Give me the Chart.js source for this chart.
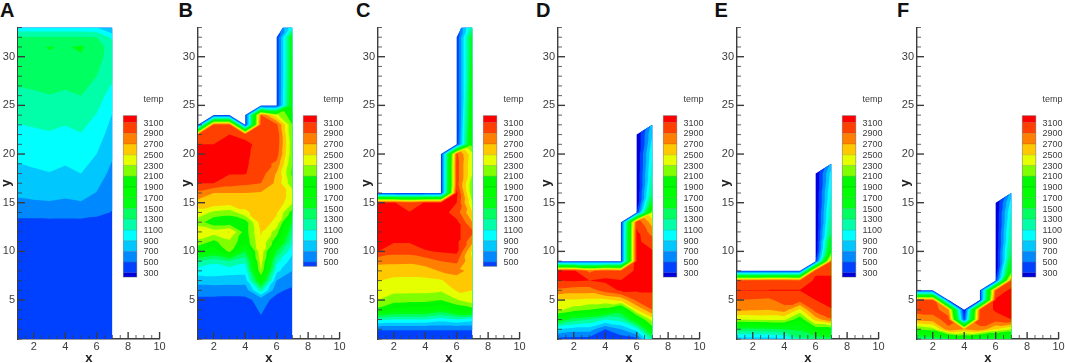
<!DOCTYPE html>
<html><head><meta charset="utf-8">
<script src="https://cdn.jsdelivr.net/npm/chart.js@4"></script>
<style>
html,body{margin:0;padding:0;background:#fff;overflow:hidden;width:1065px;height:363px}
canvas{position:absolute;top:0;filter:blur(0.45px)}
.letter{position:absolute;top:-3px;font:bold 20px "Liberation Sans",Arial,sans-serif;color:#111;line-height:26px}
</style></head><body>
<script>
const panelLetters=['A','B','C','D','E','F'];
const xCols=[1,2,3,4,5,6,7];
const xTicks=[2,4,6,8,10];
const yTicks=[5,10,15,20,25,30];
const legendLevels=[3100,2900,2700,2500,2300,2100,1900,1700,1500,1300,1100,900,700,500,300];
const bandColors=['#0000DC','#0040FF','#0088FF','#00C8FF','#00FFFF','#00FFA8','#00FF60','#00FF10','#00FF00','#00F800','#80FF00','#E6FF00','#FFC800','#FF8000','#FF4000','#FF0000'];

const yA=[1,13,14,15,16,18,20,22,24,26,28,30,31,32,33];
const tempA=[
[410,410,410,410,410,410,410],
[460,460,460,460,460,450,450],
[560,560,570,563,570,538,492],
[660,678,688,670,688,615,530],
[733,748,760,741,762,692,568],
[844,870,893,859,900,797,646],
[948,970,988,960,995,900,725],
[1043,1063,1081,1053,1090,995,808],
[1144,1165,1186,1155,1195,1090,892],
[1255,1272,1294,1267,1300,1195,1012],
[1350,1370,1390,1375,1400,1300,1140],
[1430,1440,1480,1470,1480,1380,1200],
[1450,1470,1510,1480,1530,1400,1200],
[1320,1320,1320,1320,1320,1300,1050],
[950,950,950,950,950,900,650]];
const outlineA=[[1,1],[1,33],[7,33],[7,1]];

const yB=[1,5,6,7,8,9,10,11,12,13,14,15,16,17,18,19,20,21,22,23,24,25,32,33];
const tempB=[
[420,420,420,420,420,420,420],
[460,460,460,460,550,460,430],
[575,575,560,575,1200,530,470],
[790,820,800,790,1850,700,560],
[1000,1000,980,970,2300,960,700],
[1300,1150,1300,1150,2400,1170,800],
[1900,1750,2150,1500,2450,1500,950],
[2250,2050,2250,1950,2480,1950,1150],
[2450,2400,2520,2000,2520,2200,1300],
[2200,1950,1950,2000,2600,2450,1500],
[2420,2250,2180,2450,2620,2520,2000],
[2620,2650,2600,2600,2650,2650,2330],
[2840,2700,2700,2700,2680,2650,2400],
[3100,3100,3000,2950,2900,2650,2150],
[3200,3200,3110,3110,3000,2680,2050],
[3200,3200,3200,3130,3000,2850,2100],
[3200,3200,3200,3150,3000,3000,2150],
[3100,3100,3200,3180,3000,3050,2150],
[2920,3020,3100,3000,3000,3050,2100],
[320,3000,3000,320,3000,2950,2100],
[320,320,320,320,2900,2350,1950],
[320,320,320,320,320,320,1800],
[320,320,320,320,320,320,1700],
[320,320,320,320,320,320,1100]];
const outlineB=[[1,1],[1,23],[2,24],[3,24],[4,23],[4,24],[5,25],[6,25],[6,32],[6.4,33],[7,33],[7,1]];

const yC=[1,2,3,4,5,6,7,8,9,10,11,12,13,14,15,16,17,18,19,20,21,32,33];
const tempC=[
[450,450,450,450,450,450,450],
[505,505,505,505,505,505,505],
[1150,1100,1100,1100,1000,1100,1000],
[2050,1850,1800,1800,1650,1900,2000],
[2300,2200,2180,2180,2100,2280,2450],
[2420,2350,2350,2350,2330,2520,2500],
[2510,2450,2450,2450,2480,2640,2680],
[2600,2600,2590,2620,2720,2750,2650],
[2760,2750,2740,2790,2900,2950,2500],
[3100,2980,2980,3080,3120,3150,2450],
[3150,3120,3120,3200,3200,3150,2750],
[3150,3150,3200,3200,3200,3150,2950],
[3150,3150,3200,3200,3200,3150,2700],
[3150,3150,3110,3200,3200,3000,2500],
[3120,3120,2950,3120,3120,3100,2300],
[320,320,320,320,320,3150,2150],
[320,320,320,320,320,3000,2150],
[320,320,320,320,320,3000,2300],
[320,320,320,320,320,3000,2300],
[320,320,320,320,320,2950,2350],
[320,320,320,320,320,320,2000],
[320,320,320,320,320,320,1650],
[320,320,320,320,320,320,1300]];
const outlineC=[[1,1],[1,16],[5,16],[5,20],[6,21],[6,32],[6.3,33],[7,33],[7,1]];

const yD=[1,2,3,4,5,6,7,8,9,10,11,12,13,14,15,16,18,20,22,23];
const tempD=[
[450,420,420,350,380,450,1250],
[900,800,800,500,700,1000,1950],
[1700,1400,1300,1100,1200,1800,2400],
[2350,2200,2100,2000,1700,2500,2900],
[2480,2480,2450,2450,2550,2950,3030],
[2850,2800,2800,3000,3130,3120,3120],
[3100,3120,3100,3130,3110,3150,3150],
[3150,3130,2850,3000,2900,3150,3150],
[320,320,320,320,320,3140,3150],
[320,320,320,320,320,3140,3120],
[320,320,320,320,320,3140,3000],
[320,320,320,320,320,3130,2800],
[320,320,320,320,320,3050,2600],
[320,320,320,320,320,320,2300],
[320,320,320,320,320,100,1700],
[320,320,320,320,320,100,1400],
[320,320,320,320,320,100,1200],
[320,320,320,320,320,100,1100],
[320,320,320,320,320,100,900],
[320,320,320,320,320,100,800]];
const outlineD=[[1,1],[1,9],[5,9],[5,13],[6,14],[6,22],[7,23],[7,1]];

const yE=[1,2,3,4,5,6,7,8,9,10,11,12,14,16,18,19];
const tempE=[
[800,800,800,850,1250,1300,1400],
[1420,1420,1450,1500,1550,1950,1950],
[2300,2320,2350,2350,1950,2600,2880],
[2750,2720,2700,2800,2450,3000,3090],
[2900,2880,2850,3000,3000,3100,3150],
[3105,3105,3105,3105,3105,3150,3150],
[2950,2960,2980,3000,2900,3150,3150],
[320,320,320,320,320,3050,3050],
[320,320,320,320,320,320,2900],
[320,320,320,320,320,100,2000],
[320,320,320,320,320,100,1800],
[320,320,320,320,320,100,1500],
[320,320,320,320,320,100,1300],
[320,320,320,320,320,100,1150],
[320,320,320,320,320,100,1000],
[320,320,320,320,320,100,800]];
const outlineE=[[1,1],[1,8],[5,8],[6,9],[6,18],[7,19],[7,1]];

const yF=[1,2,3,4,5,6,7,8,10,12,14,15,16];
const tempF=[
[1300,1350,1450,1700,1450,1450,1500],
[2100,2200,2850,2700,2850,2500,2300],
[2750,2800,3000,400,3000,3000,3100],
[3000,3000,2750,200,2950,3130,3200],
[2950,2950,320,320,320,3130,3200],
[320,320,320,320,320,2950,3150],
[320,320,320,320,320,320,2950],
[320,320,320,320,320,100,2000],
[320,320,320,320,320,100,1500],
[320,320,320,320,320,100,1300],
[320,320,320,320,320,100,1150],
[320,320,320,320,320,100,1000],
[320,320,320,320,320,100,800]];
const outlineF=[[1,1],[1,6],[2,6],[3,5],[4,4],[5,5],[5,6],[6,7],[6,15],[7,16],[7,1]];

const canvasLefts=[0,180,360,540,719,899];
const rowSets=[yA,yB,yC,yD,yE,yF];
const tempSets=[tempA,tempB,tempC,tempD,tempE,tempF];
const outlines=[outlineA,outlineB,outlineC,outlineD,outlineE,outlineF];
const legendLast=[300,500,500,300,300,300];

const inkColor='#3c3c3c';
const AXIS_W=18, PLOT_W=141.6, TOP=27.5, BOTTOM_H=24, CW=168;

function clipTri(tri,level){
  const out=[];
  for(let i=0;i<tri.length;i++){
    const p=tri[i],q=tri[(i+1)%tri.length];
    const pin=p[2]>=level,qin=q[2]>=level;
    if(pin)out.push(p);
    if(pin!==qin){
      const f=(level-p[2])/(q[2]-p[2]);
      out.push([p[0]+f*(q[0]-p[0]),p[1]+f*(q[1]-p[1]),level]);
    }
  }
  return out;
}
const contourPlugin={
  id:'contour',
  beforeDatasetsDraw(chart,args,opts){
    const {ctx,scales:{x:sx,y:sy}}=chart;
    const rows=opts.rows,temps=opts.temps,outline=opts.outline;
    const px=v=>sx.getPixelForValue(v),py=v=>sy.getPixelForValue(v);
    const tris=[];
    for(let j=0;j<rows.length-1;j++)for(let i=0;i<xCols.length-1;i++){
      const a=[px(xCols[i]),py(rows[j]),temps[j][i]],
            b=[px(xCols[i+1]),py(rows[j]),temps[j][i+1]],
            c=[px(xCols[i+1]),py(rows[j+1]),temps[j+1][i+1]],
            d=[px(xCols[i]),py(rows[j+1]),temps[j+1][i]];
      if(Math.abs(a[2]-c[2])<=Math.abs(b[2]-d[2])){tris.push([a,b,c],[a,c,d]);}
      else{tris.push([a,b,d],[b,c,d]);}
    }
    ctx.save();
    ctx.beginPath();
    outline.forEach((p,k)=>{k?ctx.lineTo(px(p[0]),py(p[1])):ctx.moveTo(px(p[0]),py(p[1]));});
    ctx.closePath();ctx.clip();
    const levels=[-1e9,300,500,700,900,1100,1300,1500,1700,1900,2100,2300,2500,2700,2900,3100];
    levels.forEach((lv,n)=>{
      ctx.beginPath();
      tris.forEach(t=>{
        if(n===0&&Math.min(t[0][2],t[1][2],t[2][2])>=300)return;
        const poly=clipTri(t,lv);
        if(poly.length<3)return;
        ctx.moveTo(poly[0][0],poly[0][1]);
        for(let k=1;k<poly.length;k++)ctx.lineTo(poly[k][0],poly[k][1]);
        ctx.closePath();
      });
      ctx.fillStyle=bandColors[n];
      ctx.fill();
    });
    ctx.restore();
  },
  afterDraw(chart,args,opts){
    const {ctx,scales:{x:sx,y:sy}}=chart;
    const x0=sx.left,y0=sy.bottom;
    ctx.save();
    ctx.strokeStyle=inkColor;
    for(let v=1;v<=33;v++){
      const major=v%5===0,p=sy.getPixelForValue(v);
      ctx.lineWidth=major?1.4:0.8;
      ctx.beginPath();ctx.moveTo(x0,p);ctx.lineTo(x0+(major?7:4),p);ctx.stroke();
    }
    for(let v=1;v<=10;v+=0.5){
      const major=v%2===0,p=sx.getPixelForValue(v);
      ctx.lineWidth=major?1.4:0.8;
      ctx.beginPath();ctx.moveTo(p,y0);ctx.lineTo(p,y0-(major?7:4));ctx.stroke();
    }
    const barX=x0+105.3,barW=13.5,barTop=115.7,labelX=x0+125.6,first=122.6,step=10.73;
    const last=opts.legendLast;
    const shown=legendLevels.filter(v=>v>=last);
    const barBottom=first+(shown.length-1)*step+4.2;
    const lvY=i=>first+i*step;
    ctx.fillStyle=bandColors[15];ctx.fillRect(barX,barTop,barW,first-barTop);
    shown.forEach((v,i)=>{
      const col=bandColors[14-i];
      const nextY=i===shown.length-1?barBottom:lvY(i+1);
      ctx.fillStyle=col;ctx.fillRect(barX,lvY(i),barW,nextY-lvY(i));
      ctx.strokeStyle='rgba(0,0,0,.22)';ctx.lineWidth=0.7;
      ctx.beginPath();ctx.moveTo(barX,lvY(i));ctx.lineTo(barX+barW,lvY(i));ctx.stroke();
    });
    ctx.strokeStyle='rgba(90,90,90,.55)';ctx.lineWidth=0.8;
    ctx.strokeRect(barX,barTop,barW,barBottom-barTop);
    ctx.fillStyle=inkColor;
    ctx.font='9px "Liberation Sans",Arial,sans-serif';
    ctx.textBaseline='middle';ctx.textAlign='left';
    ctx.fillText('temp',labelX,100);
    shown.forEach((v,i)=>ctx.fillText(String(v),labelX,lvY(i)+0.6));
    ctx.restore();
  }
};
Chart.register(contourPlugin);

panelLetters.forEach((letter,idx)=>{
  const div=document.createElement('div');
  div.className='letter';div.textContent=letter;
  div.style.left=[0,178.5,356,536,714.5,897][idx]+'px';
  document.body.appendChild(div);
  const cv=document.createElement('canvas');
  cv.style.left=canvasLefts[idx]+'px';
  cv.style.width=CW+'px';cv.style.height='363px';
  cv.width=CW;cv.height=363;
  document.body.appendChild(cv);
  const rows=rowSets[idx],temps=tempSets[idx];
  const nodes=[];
  rows.forEach((y,j)=>xCols.forEach((x,i)=>nodes.push({x,y,t:temps[j][i]})));
  new Chart(cv.getContext('2d'),{
    type:'scatter',
    data:{datasets:[{label:'temp',data:nodes,pointRadius:0,pointHoverRadius:0,showLine:false}]},
    options:{
      responsive:false,animation:false,devicePixelRatio:1,
      layout:{padding:{left:0,top:TOP,right:CW-AXIS_W-PLOT_W,bottom:0}},
      plugins:{legend:{display:false},tooltip:{enabled:false},title:{display:false},
        contour:{rows,temps,outline:outlines[idx],legendLast:legendLast[idx]}},
      scales:{
        x:{type:'linear',min:1,max:10,z:1,
          afterBuildTicks(s){s.ticks=xTicks.map(v=>({value:v}));},
          afterFit(s){s.height=BOTTOM_H;},
          grid:{display:false,drawTicks:false},
          border:{display:true,color:inkColor,width:1.4},
          ticks:{padding:1,color:inkColor,maxRotation:0,autoSkip:false,font:{size:11,family:'"Liberation Sans",Arial,sans-serif'}},
          title:{display:true,text:'x',color:'#222',padding:{top:0,bottom:-1.5},font:{size:13,weight:'bold',lineHeight:1,family:'"Liberation Sans",Arial,sans-serif'}}},
        y:{type:'linear',min:1,max:33,z:1,
          afterBuildTicks(s){s.ticks=yTicks.map(v=>({value:v}));},
          afterFit(s){s.width=AXIS_W;},
          grid:{display:false,drawTicks:false},
          border:{display:true,color:inkColor,width:1.4},
          ticks:{padding:3,color:inkColor,autoSkip:false,font:{size:11,family:'"Liberation Sans",Arial,sans-serif'}},
          title:{display:true,text:'y',color:'#222',padding:{top:0,bottom:-3},font:{size:13,weight:'bold',lineHeight:1,family:'"Liberation Sans",Arial,sans-serif'}}}
      }
    }
  });
});
</script>
</body></html>
